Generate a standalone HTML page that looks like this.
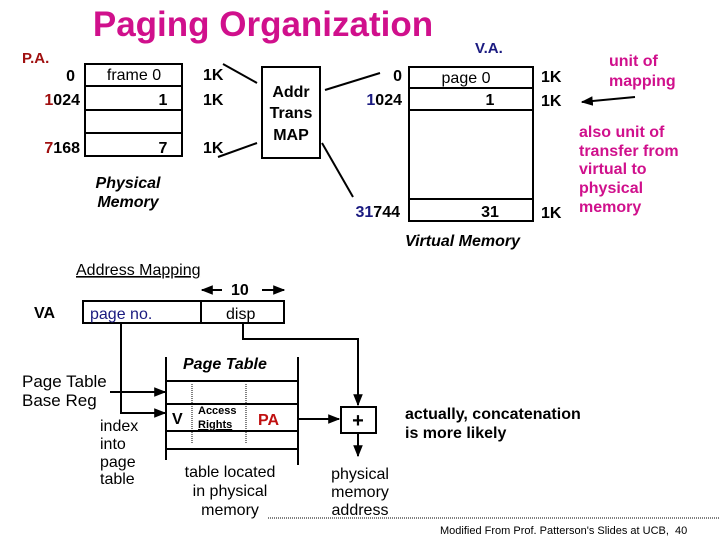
<!DOCTYPE html>
<html><head><style>
body{margin:0;background:#fff;}
svg{display:block;font-family:"Liberation Sans",Arial,sans-serif;}
.b{font-weight:bold;}
</style></head><body>
<svg width="720" height="540" viewBox="0 0 720 540" xmlns="http://www.w3.org/2000/svg">
<defs><marker id="a" viewBox="0 0 10 10" refX="9" refY="5" markerWidth="6" markerHeight="6" orient="auto"><path d="M0,1 L10,5 L0,9z" fill="#000"/></marker></defs>
<text x="263" y="36" text-anchor="middle" font-size="35" font-weight="bold" fill="#d0108c">Paging Organization</text>
<text x="22" y="63" font-size="15" class="b" fill="#a01010">P.A.</text>
<g stroke="#000" stroke-width="2" fill="none">
<rect x="85" y="64" width="97" height="92"/>
<line x1="85" y1="86" x2="182" y2="86"/><line x1="85" y1="110" x2="182" y2="110"/><line x1="85" y1="133" x2="182" y2="133"/>
<rect x="262" y="67" width="58" height="91"/>
<line x1="223" y1="64" x2="257" y2="83"/>
<line x1="325" y1="90" x2="380" y2="73"/>
<line x1="322" y1="143" x2="353" y2="197"/>
<line x1="218" y1="157" x2="257" y2="143"/>
<rect x="409" y="67" width="124" height="154"/>
<line x1="409" y1="88" x2="533" y2="88"/><line x1="409" y1="110" x2="533" y2="110"/><line x1="409" y1="199" x2="533" y2="199"/>
<line x1="635" y1="97" x2="582" y2="102" marker-end="url(#a)"/>
<rect x="83" y="301" width="201" height="22"/>
<line x1="201" y1="301" x2="201" y2="323"/>
<line x1="222" y1="290" x2="202" y2="290" marker-end="url(#a)"/>
<line x1="262" y1="290" x2="284" y2="290" marker-end="url(#a)"/>
<polyline points="121,323 121,413 165,413" marker-end="url(#a)"/>
<line x1="110" y1="392" x2="165" y2="392" marker-end="url(#a)"/>
<polyline points="243,323 243,339 358,339 358,405" marker-end="url(#a)"/>
<line x1="166" y1="357" x2="166" y2="460"/><line x1="298" y1="357" x2="298" y2="465"/>
<line x1="166" y1="381" x2="298" y2="381"/><line x1="166" y1="404" x2="298" y2="404"/>
<line x1="166" y1="431" x2="298" y2="431"/><line x1="166" y1="449" x2="298" y2="449"/>
<line x1="298" y1="419" x2="339" y2="419" marker-end="url(#a)"/>
<rect x="341" y="407" width="35" height="26"/>
<line x1="358" y1="433" x2="358" y2="456" marker-end="url(#a)"/>
</g>
<g stroke="#000" stroke-width="1" stroke-dasharray="1,1" fill="none">
<line x1="192" y1="384" x2="192" y2="444"/><line x1="246" y1="384" x2="246" y2="444"/>
</g>
<g font-size="16" class="b">
<text x="75" y="81" text-anchor="end">0</text>
<text x="80" y="105" text-anchor="end"><tspan fill="#a01010">1</tspan>024</text>
<text x="80" y="153" text-anchor="end"><tspan fill="#a01010">7</tspan>168</text>
<text x="134" y="80" text-anchor="middle" font-weight="normal">frame 0</text>
<text x="163" y="105" text-anchor="middle">1</text>
<text x="163" y="153" text-anchor="middle">7</text>
<text x="203" y="80">1K</text><text x="203" y="105">1K</text><text x="203" y="153">1K</text>
<text x="291" y="97" text-anchor="middle">Addr</text>
<text x="291" y="118" text-anchor="middle">Trans</text>
<text x="291" y="140" text-anchor="middle">MAP</text>
<text x="128" y="188" text-anchor="middle" font-style="italic">Physical</text>
<text x="128" y="207" text-anchor="middle" font-style="italic">Memory</text>
<text x="475" y="53" font-size="15" fill="#1a1a80">V.A.</text>
<text x="402" y="81" text-anchor="end">0</text>
<text x="402" y="105" text-anchor="end"><tspan fill="#1a1a80">1</tspan>024</text>
<text x="400" y="217" text-anchor="end"><tspan fill="#1a1a80">31</tspan>744</text>
<text x="466" y="83" text-anchor="middle" font-weight="normal">page 0</text>
<text x="490" y="105" text-anchor="middle">1</text>
<text x="490" y="217" text-anchor="middle">31</text>
<text x="541" y="82">1K</text><text x="541" y="106">1K</text><text x="541" y="218">1K</text>
<text x="405" y="246" font-style="italic">Virtual Memory</text>
</g>
<g font-size="16" class="b" fill="#d0108c">
<text x="609" y="66">unit of</text><text x="609" y="86">mapping</text>
<text x="579" y="137">also unit of</text><text x="579" y="156">transfer from</text>
<text x="579" y="174">virtual to</text><text x="579" y="193">physical</text><text x="579" y="212">memory</text>
</g>
<text x="76" y="275" font-size="16" text-decoration="underline">Address Mapping</text>
<text x="231" y="295" font-size="16" class="b">10</text>
<text x="34" y="318" font-size="16" class="b">VA</text>
<text x="90" y="319" font-size="16" fill="#1a1a80">page no.</text>
<text x="226" y="319" font-size="16">disp</text>
<text x="183" y="369" font-size="16" class="b" font-style="italic">Page Table</text>
<text x="22" y="387" font-size="17">Page Table</text>
<text x="22" y="406" font-size="17">Base Reg</text>
<text x="100" y="431" font-size="16">index</text>
<text x="100" y="449" font-size="16">into</text>
<text x="100" y="467" font-size="16">page</text>
<text x="100" y="484" font-size="16">table</text>
<text x="172" y="424" font-size="16" class="b">V</text>
<text x="198" y="414" font-size="11" class="b">Access</text>
<text x="198" y="428" font-size="11" class="b" text-decoration="underline">Rights</text>
<text x="258" y="425" font-size="16" class="b" fill="#c01010">PA</text>
<text x="358" y="427" font-size="20" class="b" text-anchor="middle">+</text>
<text x="230" y="477" font-size="16" text-anchor="middle">table located</text>
<text x="230" y="496" font-size="16" text-anchor="middle">in physical</text>
<text x="230" y="515" font-size="16" text-anchor="middle">memory</text>
<text x="360" y="479" font-size="16" text-anchor="middle">physical</text>
<text x="360" y="497" font-size="16" text-anchor="middle">memory</text>
<text x="360" y="515" font-size="16" text-anchor="middle">address</text>
<text x="405" y="419" font-size="16" class="b">actually, concatenation</text>
<text x="405" y="438" font-size="16" class="b">is more likely</text>
<line x1="268" y1="518" x2="720" y2="518" stroke="#000" stroke-width="1" stroke-dasharray="1,1"/>
<text x="440" y="534" font-size="11">Modified From Prof. Patterson's Slides at UCB,&#160;&#160;40</text>
</svg>
</body></html>
